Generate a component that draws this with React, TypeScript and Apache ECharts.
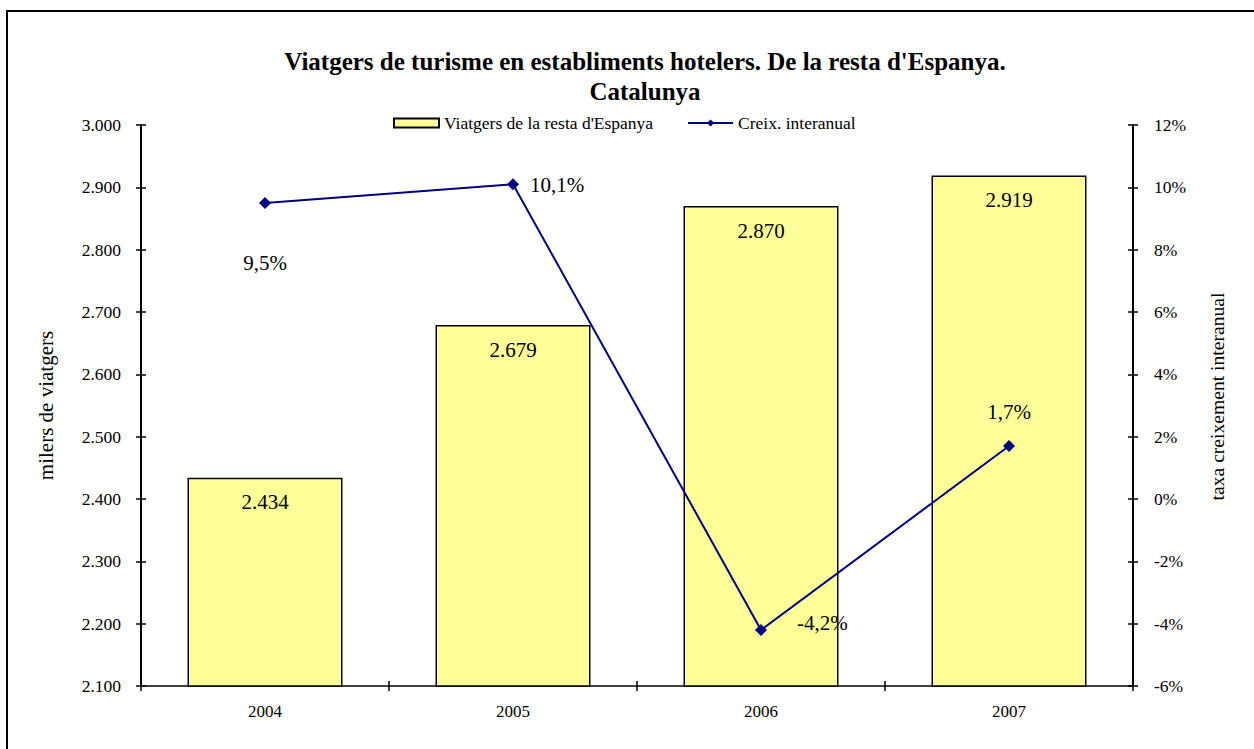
import React, { useEffect, useRef } from "react";
import * as echarts from "echarts";

const categories = ["2004", "2005", "2006", "2007"];
const travellers = [2434, 2679, 2870, 2919];
const growth = [9.5, 10.1, -4.2, 1.7];
const titleText = "Viatgers de turisme en establiments hotelers. De la resta d'Espanya.\nCatalunya";
const barName = "Viatgers de la resta d'Espanya";
const lineName = "Creix. interanual";

const FONT = "'Liberation Serif', 'Times New Roman', serif";

const fmtThousands = (v: number) =>
  Math.round(v).toString().replace(/\B(?=(\d{3})+(?!\d))/g, ".");
const fmtPct = (v: number) => v.toFixed(1).replace(".", ",") + "%";

export default function App() {
  const ref = useRef<HTMLDivElement>(null);
  useEffect(() => {
    if (!ref.current) return;
    const chart = echarts.init(ref.current, null, { renderer: "svg" });
    const lineLabels = [
      { position: "bottom", distance: 44, offset: [0, 0] },
      { position: "right", distance: 11, offset: [0, 1] },
      { position: "right", distance: 30, offset: [0, -7] },
      { position: "top", distance: 18, offset: [0, 0] },
    ];
    const axisCommon = {
      axisLine: { show: false, onZero: false },
      axisLabel: { show: false },
      splitLine: { show: false },
      axisTick: { show: true, inside: true, length: 5, lineStyle: { color: "#000", width: 1.5 } },
    };
    chart.setOption({
      animation: false,
      backgroundColor: "#fff",
      textStyle: { fontFamily: FONT },
      title: {
        text: titleText,
        left: 640,
        top: 41,
        textAlign: "center",
        textStyle: { fontFamily: FONT, fontSize: 25, fontWeight: "bold", color: "#000", lineHeight: 30 },
      },
      legend: {
        left: 388,
        top: 109,
        itemWidth: 45,
        itemHeight: 9,
        itemGap: 34,
        textStyle: { fontFamily: FONT, fontSize: 17.5, color: "#000" },
        data: [
          { name: barName, icon: "rect" },
          { name: lineName },
        ],
      },
      grid: { left: 141, right: 121, top: 125, bottom: 63, containLabel: false },
      xAxis: [
        {
          type: "category",
          data: categories,
          axisLine: { onZero: false, lineStyle: { color: "#000", width: 1.5 } },
          axisTick: { show: true, length: 5, lineStyle: { color: "#000", width: 1.5 } },
          axisLabel: { color: "#000", fontFamily: FONT, fontSize: 17, margin: 17 },
        },
        { type: "category", data: categories, position: "bottom", ...axisCommon },
      ],
      yAxis: [
        {
          type: "value",
          min: 2100,
          max: 3000,
          interval: 100,
          position: "left",
          name: "milers de viatgers",
          nameLocation: "middle",
          nameGap: 85,
          nameTextStyle: { fontFamily: FONT, fontSize: 21, color: "#000" },
          axisLine: { show: true, lineStyle: { color: "#000", width: 2 } },
          axisTick: { show: true, length: 5, lineStyle: { color: "#000", width: 1.5 } },
          axisLabel: { color: "#000", fontFamily: FONT, fontSize: 17.5, margin: 20, formatter: (v: number) => fmtThousands(v) },
          splitLine: { show: false },
        },
        {
          type: "value",
          min: -6,
          max: 12,
          interval: 2,
          position: "right",
          name: "taxa creixement interanual",
          nameLocation: "middle",
          nameGap: 74,
          nameRotate: 90,
          nameTextStyle: { fontFamily: FONT, fontSize: 19.6, color: "#000", padding: [0, 0, 0, 18] },
          axisLine: { show: true, lineStyle: { color: "#000", width: 2 } },
          axisTick: { show: true, length: 5, lineStyle: { color: "#000", width: 1.5 } },
          axisLabel: { color: "#000", fontFamily: FONT, fontSize: 17.5, margin: 21, formatter: (v: number) => v + "%" },
          splitLine: { show: false },
        },
        { type: "value", min: 2100, max: 3000, interval: 100, position: "left", ...axisCommon },
        { type: "value", min: -6, max: 12, interval: 2, position: "right", ...axisCommon },
      ],
      series: [
        {
          name: barName,
          type: "bar",
          xAxisIndex: 0,
          yAxisIndex: 0,
          barWidth: "62.5%",
          data: travellers,
          itemStyle: { color: "#FFFF99", borderColor: "#000", borderWidth: 1.5 },
          label: {
            show: true,
            position: "insideTop",
            distance: 14,
            color: "#000",
            fontFamily: FONT,
            fontSize: 21,
            formatter: (p: any) => fmtThousands(p.value),
          },
        },
        {
          name: lineName,
          type: "line",
          xAxisIndex: 0,
          yAxisIndex: 1,
          symbol: "diamond",
          symbolSize: 12,
          lineStyle: { color: "#000080", width: 2 },
          itemStyle: { color: "#000080" },
          data: growth.map((v, i) => ({
            value: v,
            label: {
              show: true,
              position: lineLabels[i].position,
              distance: lineLabels[i].distance,
              offset: lineLabels[i].offset,
              color: "#000",
              fontFamily: FONT,
              fontSize: 21,
              formatter: (p: any) => fmtPct(p.value),
            },
          })),
        },
      ],
      graphic: [
        {
          type: "rect",
          shape: { x: 7, y: 11, width: 1300, height: 800 },
          style: { fill: "none", stroke: "#000", lineWidth: 2 },
          silent: true,
        },
      ],
    });
    return () => chart.dispose();
  }, []);
  return (
    <div
      ref={ref}
      style={{ position: "fixed", left: 0, top: 0, width: 1254, height: 749 }}
    />
  );
}
